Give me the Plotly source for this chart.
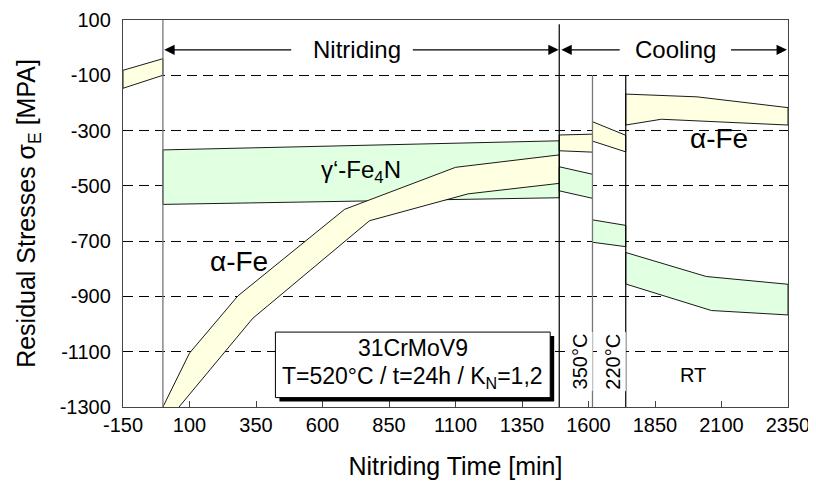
import plotly.graph_objects as go

# ---------------- data ----------------
pre_x = [-150, 0]
pre_upper = [-82, -40]
pre_lower = [-147, -100]

gamma_x = [0, 1490]
gamma_upper = [-370, -337]
gamma_lower = [-567, -543]

alpha_up_x = [0, 100, 282, 683, 1100, 1490]
alpha_up = [-1300, -1105, -898, -585, -433, -388]
alpha_lo_x = [0, 338, 777, 1147, 1490]
alpha_lo = [-1370, -979, -626, -529, -491]

seg350_x = [1490, 1615]
a350_up = [-316, -313]
a350_lo = [-373, -378]
g350_up = [-431, -458]
g350_lo = [-518, -545]

seg220_x = [1615, 1740]
a220_up = [-268, -317]
a220_lo = [-338, -377]
g220_up = [-623, -643]
g220_lo = [-704, -720]

art_up_x = [1740, 2008, 2350]
art_up = [-168, -178, -217]
art_lo_x = [1740, 1874, 2350]
art_lo = [-280, -259, -280]
grt_up_x = [1740, 2043, 2350]
grt_up = [-741, -828, -856]
grt_lo_x = [1740, 2062, 2350]
grt_lo = [-855, -951, -967]

x_ticks = [-150, 100, 350, 600, 850, 1100, 1350, 1600, 1850, 2100, 2350]
y_ticks = [100, -100, -300, -500, -700, -900, -1100, -1300]

YELLOW = "#FFFFE1"
GREEN = "#E1FFE1"
FONT = "Liberation Sans, Arial, sans-serif"

fig = go.Figure()


def band(xu, yu, xl, yl, color):
    xs = list(xu) + list(reversed(xl)) + [xu[0]]
    ys = list(yu) + list(reversed(yl)) + [yu[0]]
    fig.add_trace(go.Scatter(x=xs, y=ys, mode="lines", fill="toself",
                             fillcolor=color, line=dict(color="black", width=0.9),
                             hoverinfo="skip", showlegend=False))


band(pre_x, pre_upper, pre_x, pre_lower, YELLOW)
band(gamma_x, gamma_upper, gamma_x, gamma_lower, GREEN)
band(alpha_up_x, alpha_up, alpha_lo_x, alpha_lo, YELLOW)
band(seg350_x, a350_up, seg350_x, a350_lo, YELLOW)
band(seg350_x, g350_up, seg350_x, g350_lo, GREEN)
band(seg220_x, a220_up, seg220_x, a220_lo, YELLOW)
band(seg220_x, g220_up, seg220_x, g220_lo, GREEN)
band(art_up_x, art_up, art_lo_x, art_lo, YELLOW)
band(grt_up_x, grt_up, grt_lo_x, grt_lo, GREEN)

# vertical separators
fig.add_shape(type="line", x0=0, x1=0, y0=-1300, y1=100, line=dict(color="#777", width=1.3), layer="above")
fig.add_shape(type="line", x0=1490, x1=1490, y0=-1300, y1=85, line=dict(color="black", width=1.2), layer="above")
fig.add_shape(type="line", x0=1615, x1=1615, y0=-1300, y1=-100, line=dict(color="#777", width=1.3), layer="above")
fig.add_shape(type="line", x0=1740, x1=1740, y0=-1300, y1=-100, line=dict(color="black", width=1.2), layer="above")

# text box with shadow
fig.add_shape(type="rect", x0=438, x1=1471, y0=-1043, y1=-1280, fillcolor="black",
              line=dict(width=0), layer="above")
fig.add_shape(type="rect", x0=423, x1=1456, y0=-1029, y1=-1266, fillcolor="white",
              line=dict(color="black", width=1), layer="above")

anns = []


def txt(x, y, t, size, **kw):
    anns.append(dict(x=x, y=y, text=t, showarrow=False, xref="x", yref="y",
                     font=dict(family=FONT, size=size, color="black"), **kw))


def arrow(tail, head, y):
    anns.append(dict(x=head, y=y, ax=tail, ay=y, xref="x", yref="y", axref="x", ayref="y",
                     text="", showarrow=True, arrowhead=2, arrowsize=1.6, arrowwidth=1.3,
                     arrowcolor="black"))


txt(728, -8, "Nitriding", 24)
arrow(488, 5, -8)
arrow(934, 1488, -8)
txt(1927, -8, "Cooling", 24)
arrow(1723, 1498, -8)
arrow(2130, 2346, -8)

txt(746, -449, "γ‘-Fe<sub>4</sub>N", 24)
txt(286, -774, "α-Fe", 28)
txt(2090, -328, "α-Fe", 28)
txt(1567, -1136, "350°C", 20, textangle=-90, bgcolor="white")
txt(1692, -1136, "220°C", 20, textangle=-90, bgcolor="white")
txt(1992, -1184, "RT", 20)
txt(939, -1085, "31CrMoV9", 23)
txt(939, -1192, "T=520°C / t=24h / K<sub>N</sub>=1,2", 23)

# the page body adds an 8px offset; margins compensate for it
fig.update_layout(
    width=816, height=492,
    margin=dict(l=115, r=36, t=12, b=93),
    paper_bgcolor="white", plot_bgcolor="white",
    font=dict(family=FONT, size=20, color="black"),
    annotations=anns,
    showlegend=False,
)
fig.update_xaxes(range=[-150, 2350], tickvals=x_ticks, ticktext=[str(v) for v in x_ticks],
                 automargin=False,
                 showgrid=False, zeroline=False, showline=True, mirror=True,
                 linecolor="#444", linewidth=1.3, ticks="inside", ticklen=6, tickcolor="#444",
                 tickfont=dict(size=20),
                 title=dict(text="Nitriding Time [min]", font=dict(size=25), standoff=22))
fig.update_yaxes(range=[-1300, 100], tickvals=y_ticks, ticktext=[str(v) for v in y_ticks],
                 automargin=False,
                 showgrid=True, gridcolor="black", gridwidth=1.3, griddash="10px,6px",
                 zeroline=False, showline=True, mirror=True,
                 linecolor="#444", linewidth=1.3, ticks="", ticklabelstandoff=7,
                 tickfont=dict(size=20),
                 title=dict(text="Residual Stresses σ<sub>E</sub> [MPA]", font=dict(size=25), standoff=16))

fig.write_html("out.html")
